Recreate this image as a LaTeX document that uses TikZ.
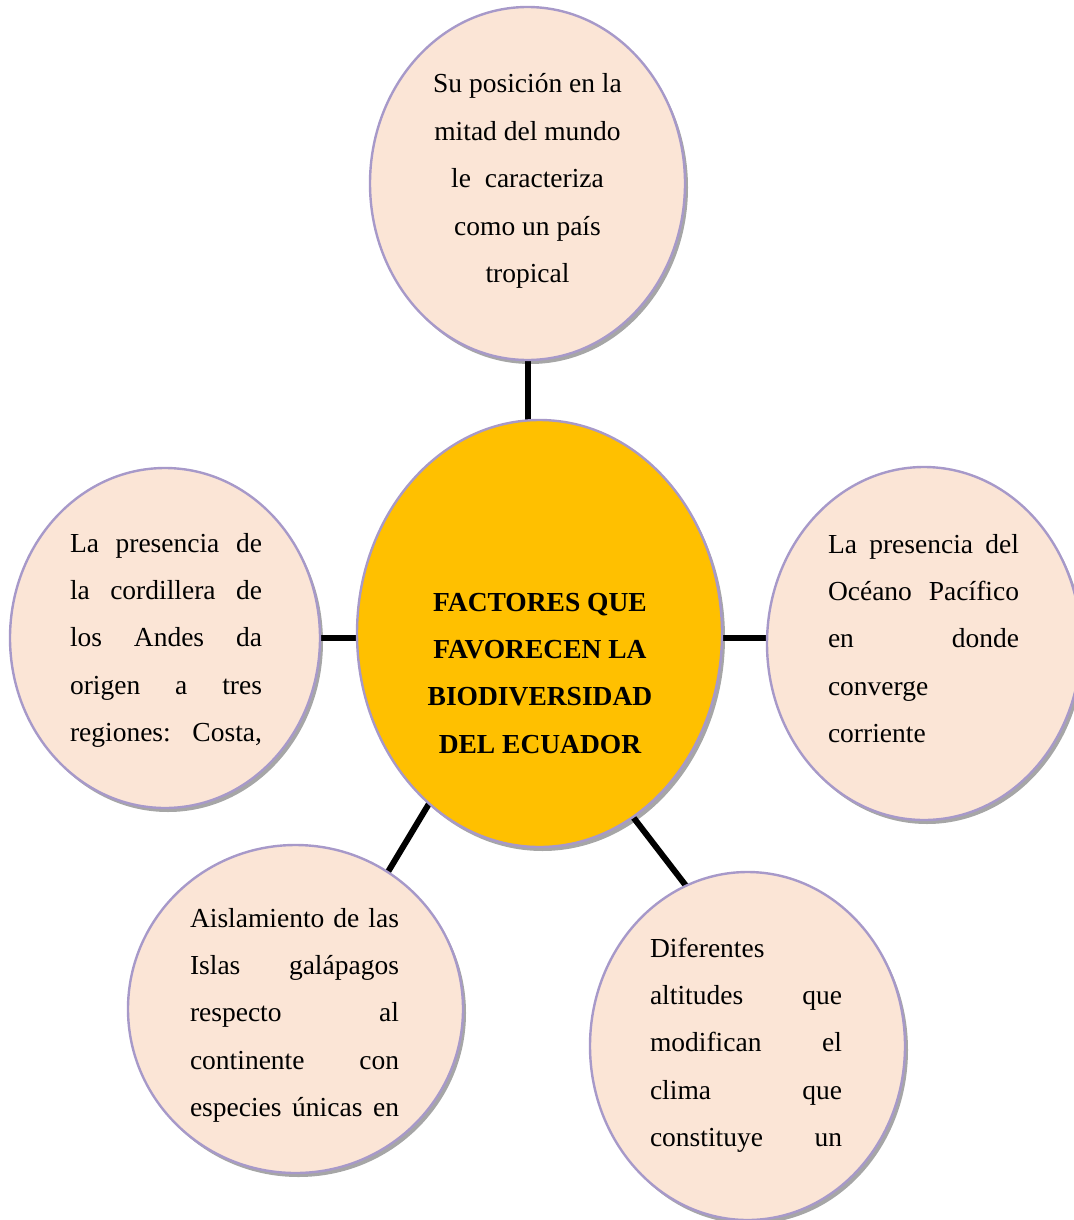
\documentclass[tikz,border=0pt]{standalone}
\usepackage{fontspec}
\setmainfont{Liberation Serif}
\usetikzlibrary{shapes.geometric,shadows,backgrounds}
\definecolor{bordpurple}{RGB}{167,153,201}
\definecolor{petal}{RGB}{251,229,214}
\definecolor{core}{RGB}{255,192,0}
\tikzset{
  bubble/.style={ellipse, draw=bordpurple, line width=2.4pt, fill=petal,
    inner sep=0pt, outer sep=0pt,
    drop shadow={shadow xshift=3pt, shadow yshift=-4pt, fill=black, opacity=0.35}},
  corebubble/.style={bubble, fill=core},
  txt/.style={inner sep=0pt, outer sep=0pt, anchor=base west},
  ctxt/.style={inner sep=0pt, outer sep=0pt, anchor=base},
  link/.style={line width=6pt, black}
}
\newcommand{\bodyfont}{\fontsize{27.5}{47.4}\selectfont}
\begin{document}
\begin{tikzpicture}[x=1pt,y=-1pt]
\useasboundingbox (0,0) rectangle (1073,1220);
% ellipses
\node[bubble, minimum width=315pt, minimum height=353pt] (t) at (527.5,183.5) {};
\node[corebubble, minimum width=365pt, minimum height=427pt] (c) at (539.5,633.5) {};
\node[bubble, minimum width=310pt, minimum height=340pt] (l) at (165,638) {};
\node[bubble, minimum width=314pt, minimum height=353pt] (r) at (924,643.5) {};
\node[bubble, minimum width=335pt, minimum height=328pt] (bl) at (295.5,1009) {};
\node[bubble, minimum width=315pt, minimum height=348pt] (br) at (747.5,1046) {};
% connectors
\begin{scope}[on background layer]
\draw[link] (t.south) -- (t.south |- c.north);
\draw[link] (l.east) -- (l.east -| c.west);
\draw[link] ([yshift=-4.5pt]c.east) -- ([yshift=-4.5pt]c.east -| r.west);
\draw[link] (c.-123.5) -- (bl.56.7);
\draw[link] (c.-63.8) -- (br.111.8);
\end{scope}
% texts
\node[ctxt] (tt) at (527.5,93) {\parbox[t]{240pt}{\bodyfont\centering
Su posición en la\\
mitad del mundo\\
le\ \ caracteriza\\
como un país\\
tropical}};
\node[ctxt] (ct) at (540,611) {\parbox[t]{300pt}{\bodyfont\bfseries\centering
FACTORES QUE\\
FAVORECEN LA\\
BIODIVERSIDAD\\
DEL ECUADOR}};
\node[txt] (lt) at (70,552) {\parbox[t]{192pt}{\bodyfont
La\hfill presencia\hfill de\\
la\hfill cordillera\hfill de\\
los\hfill Andes\hfill da\\
origen\hfill a\hfill tres\\
regiones:\hfill Costa,}};
\node[txt] (rt) at (828,553) {\parbox[t]{191pt}{\bodyfont
La\hfill presencia\hfill del\\
Océano\hfill Pacífico\\
en\hfill donde\\
converge\\
corriente}};
\node[txt] (blt) at (190,927) {\parbox[t]{209pt}{\bodyfont
Aislamiento\hfill de\hfill las\\
Islas\hfill galápagos\\
respecto\hfill al\\
continente\hfill con\\
especies\hfill únicas\hfill en}};
\node[txt] (brt) at (650,957) {\parbox[t]{192pt}{\bodyfont
Diferentes\\
altitudes\hfill que\\
modifican\hfill el\\
clima\hfill que\\
constituye\hfill un}};
\end{tikzpicture}
\end{document}
